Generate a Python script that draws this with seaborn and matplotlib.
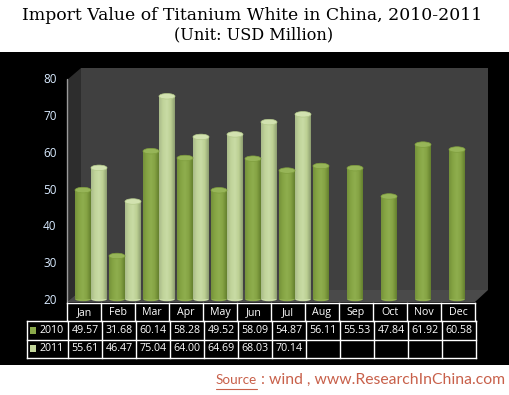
# Import value of titanium white, 3D style cylinder columns with a data table below
import numpy as np
import pandas as pd
import matplotlib
matplotlib.use("Agg")
import matplotlib.pyplot as plt
from matplotlib.colors import LinearSegmentedColormap
from matplotlib.patches import Ellipse, Polygon, Rectangle
import seaborn as sns

months = ["Jan", "Feb", "Mar", "Apr", "May", "Jun", "Jul", "Aug", "Sep", "Oct", "Nov", "Dec"]
values_2010 = [49.57, 31.68, 60.14, 58.28, 49.52, 58.09, 54.87, 56.11, 55.53, 47.84, 61.92, 60.58]
values_2011 = [55.61, 46.47, 75.04, 64.00, 64.69, 68.03, 70.14, None, None, None, None, None]
years = ["2010", "2011"]
y_ticks = [20, 30, 40, 50, 60, 70, 80]

title_lines = ["Import Value of Titanium White in China, 2010-2011", "(Unit: USD Million)"]

W, H = 510, 395
sns.set_theme(style="white")
plt.rcParams["font.family"] = ["Open Sans", "DejaVu Sans"]

df = pd.DataFrame({
    "month": months * 2,
    "year": ["2010"] * 12 + ["2011"] * 12,
    "value": pd.to_numeric(pd.Series(values_2010 + values_2011), errors="coerce"),
})

fig = plt.figure(figsize=(W / 100, H / 100), dpi=100, facecolor="white")

# background layer in pixel coordinates
bg = fig.add_axes([0, 0, 1, 1])
bg.set_xlim(0, W)
bg.set_ylim(H, 0)
bg.axis("off")
bg.add_patch(Rectangle((0, 52), W, 313, color="black", lw=0))
bg.add_patch(Polygon([(81, 68), (488, 68), (488, 290), (81, 290)], color="#404040", lw=0))
bg.add_patch(Polygon([(67, 80), (81, 68), (81, 290), (67, 302)], color="#2d2d2d", lw=0))
bg.add_patch(Polygon([(67, 302), (475, 302), (488, 290), (81, 290)], color="#4a4a4a", lw=0))
bg.plot([67, 67], [79, 302], color="#9a9a9a", lw=1)

# columns
ax = fig.add_axes([74 / W, 1 - 299 / H, 408 / W, 221 / H])
ax.patch.set_alpha(0)
sns.barplot(data=df, x="month", y="value", hue="year", order=months, hue_order=years,
            palette=["#86a544", "#c3d69b"], width=0.94, gap=0, legend=False, ax=ax)
ax.set_ylim(20, 80)
ax.set_xlim(-0.5, 11.5)
xlim = ax.get_xlim()

green = LinearSegmentedColormap.from_list("g", ["#75923a", "#86a544", "#8fae4e", "#84a243", "#64802f"])
light = LinearSegmentedColormap.from_list("l", ["#a9bb8a", "#c1d49a", "#c9dba5", "#bccf93", "#8d9e70"])
caps = [("#7f9e3e", "#97b558"), ("#b4c98b", "#d2e2b0")]
grad = np.linspace(0, 1, 64).reshape(1, -1)
for cont, cmap, (cap_edge, cap_face) in zip(ax.containers, [green, light], caps):
    for bar in cont:
        h = bar.get_height()
        if np.isnan(h):
            continue
        x0, w = bar.get_x(), bar.get_width()
        bar.set_alpha(0)
        ax.imshow(grad, extent=(x0, x0 + w, 20, h), aspect="auto", cmap=cmap, zorder=3)
        ax.add_patch(Ellipse((x0 + w / 2, h), w, 1.5, facecolor=cap_face, edgecolor=cap_edge, lw=0.5, zorder=4))
        ax.add_patch(Ellipse((x0 + w / 2, 20), w, 1.2, facecolor=cmap(0.5), lw=0, zorder=2, clip_on=False))
ax.set_xlim(xlim)
ax.set_ylim(20, 80)

ax.set_xlabel("")
ax.set_ylabel("")
ax.set_xticks([])
ax.set_yticks(y_ticks)
ax.tick_params(axis="y", length=0, pad=12.5, labelsize=8.5, labelcolor="#d8eaff")
sns.despine(ax=ax, left=True, bottom=True)

# data table
tbl_font = dict(color="white", fontsize=7.7, ha="center", va="center")
head_x = [67 + 34 * i for i in range(13)]
data_x = [68 + 34 * i for i in range(13)]
row_y = [303, 321, 339.5, 357.5]
line = dict(color="white", lw=1, solid_capstyle="projecting")
bg.plot([67, 475], [303, 303], **line)
for x in head_x:
    bg.plot([x, x], [303, 321], **line)
for m, x in zip(months, head_x):
    bg.text(x + 17, 312.5, m, **tbl_font)
for y in row_y[1:]:
    bg.plot([27, 476], [y, y], **line)
for x in [27] + data_x:
    bg.plot([x, x], [321, 357.5], **line)
for r, (year, vals) in enumerate(zip(years, [values_2010, values_2011])):
    cy = (row_y[r + 1] + row_y[r + 2]) / 2
    bg.text(52, cy, year, **tbl_font)
    bg.add_patch(Rectangle((30.5, cy - 3.5), 6, 7, color=["#8aa94a", "#c3d69b"][r], lw=0))
    for v, x in zip(vals, data_x):
        if v is not None:
            bg.text(x + 17, cy, f"{v:.2f}", **tbl_font)

# title and source
bg.text(252, 15, title_lines[0], family="DejaVu Serif", fontsize=12.45, color="black", ha="center", va="center")
bg.text(254, 35, title_lines[1], family="DejaVu Serif", fontsize=11.6, color="black", ha="center", va="center")
src = "#c8604a"
bg.text(216, 380, "Source", family="Lato", fontsize=9.7, color=src, ha="left", va="center")
bg.plot([216, 257], [388.5, 388.5], color=src, lw=0.8)
bg.text(505, 380, ": wind , www.ResearchInChina.com", family="Lato", fontsize=11.3, color=src, ha="right", va="center")

fig.savefig("out.png", dpi=100)
